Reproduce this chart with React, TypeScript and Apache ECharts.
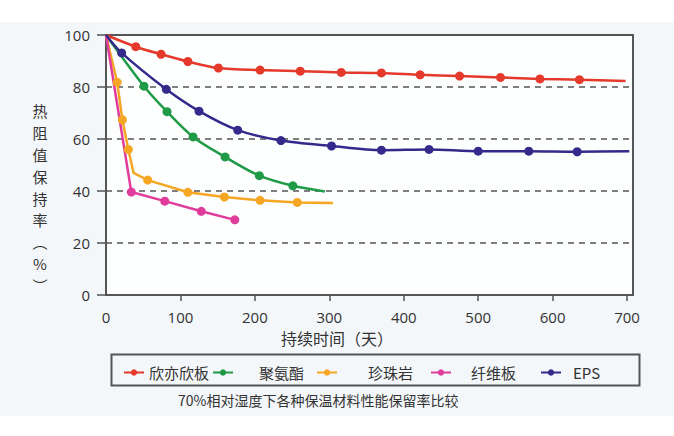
import React, { useEffect, useRef } from "react";
import * as echarts from "echarts";

const seriesNames = ["欣亦欣板", "聚氨酯", "珍珠岩", "纤维板", "EPS"];
const seriesColors = ["#e4392b", "#1f9a46", "#f5a623", "#e03c9c", "#36298c"];

// [days, retention %] — points with markers
const redPoints = [[40, 95.5], [74, 92.6], [110, 89.8], [151, 87.3], [207, 86.5], [261, 86.1], [316, 85.6], [370, 85.4], [422, 84.7], [475, 84.2], [530, 83.7], [583, 83.1], [636, 82.8]];
const greenPoints = [[51, 80.3], [82, 70.5], [117, 60.8], [160, 53.1], [206, 45.9], [251, 42.0]];
const orangePoints = [[15, 81.8], [22, 67.4], [30, 56.0], [56, 44.2], [110, 39.5], [159, 37.7], [207, 36.4], [257, 35.6]];
const pinkPoints = [[34, 39.6], [79, 36.1], [128, 32.2], [173, 28.9]];
const bluePoints = [[21, 93.1], [81, 79.1], [125, 70.7], [177, 63.4], [235, 59.4], [303, 57.3], [370, 55.7], [434, 56.0], [500, 55.3], [568, 55.3], [633, 55.1]];

// unmarked line start / bend / end points
const startPoint = [0, 100];
const redEnd = [698, 82.3];
const greenEnd = [294, 39.8];
const orangeBend = [37, 47];
const orangeEnd = [305, 35.4];
const blueEnd = [703, 55.3];

const xTicks = [0, 100, 200, 300, 400, 500, 600, 700];
const yTicks = [0, 20, 40, 60, 80, 100];
const yNameChars = ["热", "阻", "值", "保", "持", "率", "︵", "%", "︶"];

const plain = (p: number[]) => ({ value: p, symbol: "none" });

export default function App() {
  const ref = useRef<HTMLDivElement>(null);
  useEffect(() => {
    if (!ref.current) return;
    const chart = echarts.init(ref.current, null, { renderer: "svg" });
    const cjk = "'Noto Sans CJK SC', 'Noto Sans', sans-serif";
    const lineData = [
      [plain(startPoint), ...redPoints, plain(redEnd)],
      [plain(startPoint), ...greenPoints, plain(greenEnd)],
      [plain(startPoint), ...orangePoints.slice(0, 3), plain(orangeBend), ...orangePoints.slice(3), plain(orangeEnd)],
      [plain(startPoint), ...pinkPoints],
      [plain(startPoint), ...bluePoints, plain(blueEnd)],
    ];
    const smooths = [0.3, 0.3, false, false, 0.3];
    const legendMarker = [128, 217, 321, 435, 545];
    const legendText = [143, 253, 362, 465, 567];
    const iconW = 20;
    const nameStep = 21.8;
    chart.setOption({
      animation: false,
      backgroundColor: "#f4f7fa",
      textStyle: { fontFamily: cjk },
      grid: { left: 106, right: 41, top: 35, bottom: 141, show: true, backgroundColor: "#fdfefe", borderColor: "#555", borderWidth: 2 },
      xAxis: {
        type: "value",
        min: 0,
        max: 708,
        interval: 100,
        axisLine: { show: true, lineStyle: { color: "#555", width: 2 } },
        axisTick: { show: true, inside: false, length: 6, lineStyle: { color: "#555", width: 1.5 }, customValues: xTicks.slice(1) },
        axisLabel: { color: "#333", fontSize: 15, margin: 14, customValues: xTicks, fontFamily: "'Open Sans', sans-serif" },
        splitLine: { show: false },
      },
      yAxis: {
        type: "value",
        min: 0,
        max: 100,
        interval: 20,
        axisLine: { show: true, lineStyle: { color: "#555", width: 2 } },
        axisTick: { show: true, length: 9, lineStyle: { color: "#555", width: 1.5 } },
        axisLabel: { color: "#333", fontSize: 15, margin: 16, customValues: yTicks, fontFamily: "'Open Sans', sans-serif" },
        splitLine: { show: true, lineStyle: { color: "#555", type: [6, 5], width: 1.5 } },
      },
      legend: seriesNames.map((n, i) => ({
        data: [n],
        left: legendMarker[i] - iconW / 2,
        top: 360,
        itemWidth: iconW,
        itemHeight: 8,
        itemGap: 0,
        textStyle: { fontSize: 15, color: "#333", fontFamily: cjk, padding: [0, 0, 0, Math.max(0, legendText[i] - (legendMarker[i] + iconW / 2) - 5)] },
      })),
      graphic: [
        { type: "rect", left: 0, top: 0, shape: { width: 674, height: 22 }, style: { fill: "#ffffff" }, z: -10 },
        { type: "rect", left: 0, top: 416, shape: { width: 674, height: 20 }, style: { fill: "#ffffff" }, z: -10 },
        { type: "rect", left: 109, top: 352, shape: { width: 528, height: 31 }, style: { fill: "none", stroke: "#555", lineWidth: 2 }, z: 1 },
        { type: "text", left: "center", top: 330, style: { text: "持续时间（天）", fill: "#333", font: "16px " + cjk }, z: 5 },
        ...yNameChars.map((c, i) => ({
          type: "text",
          x: 40,
          y: 198 + (i - 4) * nameStep,
          style: { text: c, fill: "#333", font: "15px " + cjk, align: "center", verticalAlign: "middle" },
        })),
        { type: "text", left: 178, top: 393, style: { text: "70%相对湿度下各种保温材料性能保留率比较", fill: "#333", font: "14px " + cjk } },
      ],
      series: seriesNames.map((n, i) => ({
        name: n,
        type: "line",
        data: lineData[i],
        smooth: smooths[i],
        symbol: "circle",
        symbolSize: 9,
        color: seriesColors[i],
        lineStyle: { width: 2.5, color: seriesColors[i] },
        itemStyle: { color: seriesColors[i] },
      })),
    });
    return () => chart.dispose();
  }, []);
  return <div ref={ref} style={{ position: "fixed", left: 0, top: 0, width: 674, height: 436 }} />;
}
